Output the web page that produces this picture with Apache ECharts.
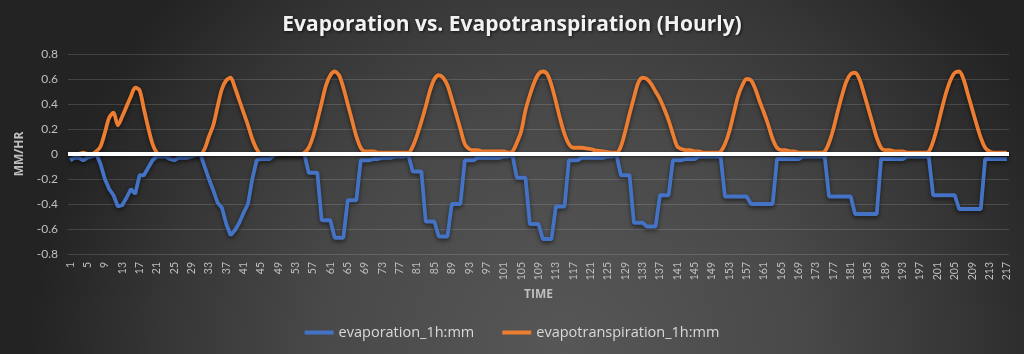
<!DOCTYPE html>
<html>
<head>
<meta charset="utf-8">
<script src="https://cdn.jsdelivr.net/npm/echarts@6/dist/echarts.min.js"></script>
<style>
  html, body { margin: 0; padding: 0; background: #2a2a2a; }
  #chart { width: 1024px; height: 354px; }
</style>
</head>
<body>
<div id="chart"></div>
<script>
// hourly values, mm/hr (one row per day, roughly)
const evaporation = [
  -0.05, -0.03, -0.03, -0.05, -0.03, -0.02, 0, -0.08, -0.2, -0.28, -0.33, -0.42, -0.41, -0.35, -0.28,
  -0.32, -0.17, -0.17, -0.11, -0.05, -0.02, -0.02, -0.02, -0.04, -0.05, -0.03, -0.03, -0.03, -0.02, -0.01,
  0, -0.1, -0.2, -0.29, -0.39, -0.43, -0.56, -0.65, -0.61, -0.55, -0.47, -0.4, -0.2, -0.05, -0.04, -0.04, -0.04, -0.01, 0, 0, 0, 0, 0, 0,
  0, -0.15, -0.15, -0.15, -0.53, -0.53, -0.53, -0.67, -0.67, -0.67, -0.37, -0.37, -0.37, -0.05, -0.05, -0.05, -0.04, -0.04, -0.03, -0.03, -0.03, -0.02, -0.02, -0.02,
  -0.01, -0.14, -0.14, -0.14, -0.54, -0.54, -0.54, -0.66, -0.66, -0.66, -0.4, -0.4, -0.4, -0.05, -0.05, -0.05, -0.03, -0.03, -0.03, -0.03, -0.03, -0.03, -0.02, -0.02,
  -0.01, -0.19, -0.19, -0.19, -0.56, -0.56, -0.56, -0.68, -0.68, -0.68, -0.42, -0.42, -0.42, -0.05, -0.05, -0.05, -0.03, -0.03, -0.03, -0.03, -0.03, -0.03, -0.02, -0.02,
  -0.01, -0.17, -0.17, -0.17, -0.55, -0.55, -0.55, -0.58, -0.58, -0.58, -0.33, -0.33, -0.33, -0.05, -0.05, -0.05, -0.04, -0.04, -0.04, -0.02, -0.02, -0.02, -0.02, -0.02,
  -0.02, -0.34, -0.34, -0.34, -0.34, -0.34, -0.34, -0.4, -0.4, -0.4, -0.4, -0.4, -0.4, -0.04, -0.04, -0.04, -0.04, -0.04, -0.04, -0.02, -0.02, -0.02, -0.02, -0.02,
  -0.02, -0.34, -0.34, -0.34, -0.34, -0.34, -0.34, -0.48, -0.48, -0.48, -0.48, -0.48, -0.48, -0.04, -0.04, -0.04, -0.04, -0.04, -0.04, -0.02, -0.02, -0.02, -0.02, -0.02,
  -0.02, -0.33, -0.33, -0.33, -0.33, -0.33, -0.33, -0.44, -0.44, -0.44, -0.44, -0.44, -0.44, -0.04, -0.04, -0.04, -0.04, -0.04, -0.04,
];

const evapotranspiration = [
  0, 0, 0, 0.01, 0, 0, 0.02, 0.06, 0.17, 0.29, 0.33, 0.23, 0.3, 0.38, 0.46,
  0.53, 0.51, 0.36, 0.21, 0.08, 0.01, 0, 0, 0, 0, 0, 0, 0, 0, 0,
  0, 0.04, 0.14, 0.23, 0.38, 0.52, 0.59, 0.61, 0.53, 0.43, 0.33, 0.23, 0.12, 0.04, 0, 0, 0, 0, 0, 0, 0, 0, 0, 0,
  0.01, 0.05, 0.14, 0.27, 0.41, 0.55, 0.63, 0.66, 0.63, 0.53, 0.4, 0.27, 0.14, 0.05, 0.02, 0.02, 0.02, 0.01, 0.01, 0.01, 0.01, 0.01, 0.01, 0.01,
  0.01, 0.06, 0.15, 0.26, 0.38, 0.51, 0.6, 0.63, 0.61, 0.55, 0.44, 0.32, 0.2, 0.08, 0.04, 0.03, 0.03, 0.02, 0.02, 0.02, 0.02, 0.02, 0.02, 0.01,
  0.02, 0.09, 0.18, 0.35, 0.47, 0.57, 0.64, 0.66, 0.64, 0.55, 0.42, 0.28, 0.16, 0.08, 0.05, 0.05, 0.05, 0.045, 0.04, 0.03, 0.025, 0.02, 0.015, 0.01,
  0.01, 0.06, 0.18, 0.32, 0.45, 0.57, 0.61, 0.6, 0.56, 0.5, 0.44, 0.36, 0.27, 0.16, 0.06, 0.04, 0.03, 0.03, 0.02, 0.02, 0.01, 0.01, 0.01, 0.01,
  0.02, 0.08, 0.18, 0.32, 0.46, 0.55, 0.6, 0.59, 0.52, 0.42, 0.33, 0.23, 0.12, 0.05, 0.03, 0.03, 0.02, 0.02, 0.01, 0.01, 0.01, 0.01, 0.01, 0.01,
  0.02, 0.09, 0.2, 0.34, 0.47, 0.58, 0.64, 0.65, 0.6, 0.49, 0.37, 0.25, 0.13, 0.05, 0.03, 0.03, 0.02, 0.02, 0.02, 0.01, 0.01, 0.01, 0.01, 0.01,
  0.02, 0.1, 0.22, 0.36, 0.49, 0.59, 0.65, 0.66, 0.6, 0.48, 0.36, 0.24, 0.13, 0.05, 0.02, 0.01, 0.01, 0.01, 0.01,
];

// hour number, 1..217
const hours = evaporation.map((v, i) => String(i + 1));

const seriesNames = ['evaporation_1h:mm', 'evapotranspiration_1h:mm'];

const chart = echarts.init(document.getElementById('chart'));

const lineShadow = {
  shadowColor: 'rgba(0,0,0,0.55)',
  shadowBlur: 4,
  shadowOffsetY: 2,
};

const option = {
  backgroundColor: new echarts.graphic.RadialGradient(0.55, 1, 1.5, [
    { offset: 0, color: '#575757' },
    { offset: 0.45, color: '#494949' },
    { offset: 0.75, color: '#363636' },
    { offset: 1, color: '#232323' },
  ]),
  title: {
    text: 'Evaporation vs. Evapotranspiration (Hourly)',
    left: 'center',
    top: 10,
    textStyle: {
      color: '#f2f2f2',
      fontFamily: 'Open Sans',
      fontWeight: 'bold',
      fontSize: 21,
      textShadowColor: 'rgba(0,0,0,0.7)',
      textShadowBlur: 3,
      textShadowOffsetX: 1,
      textShadowOffsetY: 1,
    },
  },
  legend: {
    data: seriesNames,
    bottom: 9,
    icon: 'rect',
    itemWidth: 29,
    itemHeight: 4,
    itemGap: 28,
    textStyle: { color: '#d9d9d9', fontFamily: 'Open Sans', fontSize: 14.5 },
  },
  grid: { left: 68, right: 15, top: 54, bottom: 100 },
  xAxis: {
    type: 'category',
    data: hours,
    boundaryGap: true,
    name: 'TIME',
    nameLocation: 'middle',
    nameGap: 33,
    nameTextStyle: { color: '#bfbfbf', fontFamily: 'Open Sans', fontWeight: 'bold', fontSize: 12 },
    axisLine: { show: false },
    axisTick: { show: false },
    axisLabel: {
      interval: 3,
      rotate: 90,
      margin: 8,
      color: '#bfbfbf',
      fontFamily: 'Lato',
      fontSize: 10.5,
    },
  },
  yAxis: {
    type: 'value',
    min: -0.8,
    max: 0.8,
    interval: 0.2,
    name: 'MM/HR',
    nameLocation: 'middle',
    nameRotate: 90,
    nameGap: 40,
    nameTextStyle: { color: '#bfbfbf', fontFamily: 'Open Sans', fontWeight: 'bold', fontSize: 12 },
    axisLabel: {
      margin: 10,
      color: '#bfbfbf',
      fontFamily: 'Lato',
      fontSize: 12,
      formatter: (v) => String(Math.round(v * 10) / 10),
    },
    splitLine: { lineStyle: { color: 'rgba(255,255,255,0.14)', width: 1 } },
  },
  series: [
    {
      // zero line, under the data lines
      type: 'line',
      z: 1,
      data: [],
      markLine: {
        silent: true,
        symbol: 'none',
        label: { show: false },
        lineStyle: { color: '#ffffff', width: 4, type: 'solid', shadowColor: 'rgba(0,0,0,0.5)', shadowBlur: 3, shadowOffsetY: 1 },
        data: [{ yAxis: 0 }],
      },
    },
    {
      name: seriesNames[0],
      type: 'line',
      z: 3,
      data: evaporation,
      symbol: 'none',
      color: '#4472c4',
      lineStyle: Object.assign({ width: 3.8, color: '#4472c4' }, lineShadow),
    },
    {
      name: seriesNames[1],
      type: 'line',
      z: 4,
      data: evapotranspiration,
      symbol: 'none',
      smooth: 0.3,
      color: '#ed7d31',
      lineStyle: Object.assign({ width: 3.8, color: '#ed7d31' }, lineShadow),
    },
  ],
};

chart.setOption(option);
</script>
</body>
</html>
